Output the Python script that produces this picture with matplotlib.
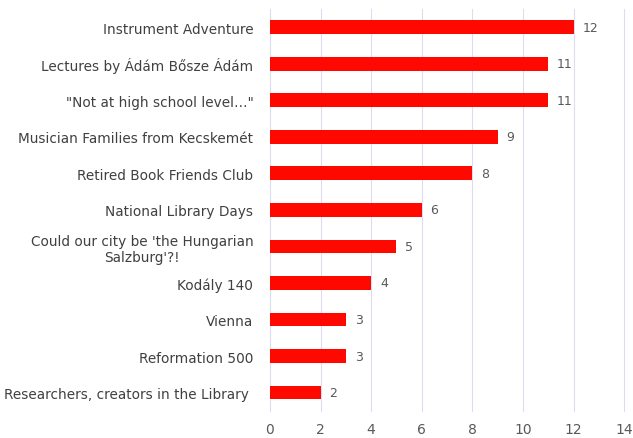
import matplotlib.pyplot as plt

plt.rcParams["font.family"] = "DejaVu Sans"

categories = [
    "Instrument Adventure",
    "Lectures by Ádám Bősze Ádám",
    "\"Not at high school level…\"",
    "Musician Families from Kecskemét",
    "Retired Book Friends Club",
    "National Library Days",
    "Could our city be 'the Hungarian\nSalzburg'?!",
    "Kodály 140",
    "Vienna",
    "Reformation 500",
    "Researchers, creators in the Library ",
]
values = [12, 11, 11, 9, 8, 6, 5, 4, 3, 3, 2]
xticks = [0, 2, 4, 6, 8, 10, 12, 14]

text_color = "#595959"
fig = plt.figure(figsize=(6.33, 4.39), dpi=100)
ax = fig.add_axes([0.4265, 0.062, 0.5595, 0.915])

pos = list(range(len(categories)))[::-1]
ax.barh(pos, values, height=0.38, color="#FF0800", zorder=2)
for p, v in zip(pos, values):
    ax.text(v + 0.35, p, str(v), va="center", ha="left", fontsize=9, color=text_color)

ax.set_xlim(0, 14)
ax.set_ylim(-0.5, len(categories) - 0.5)
ax.set_xticks(xticks)
ax.set_xticklabels([str(x) for x in xticks], fontsize=10, color=text_color)
ax.set_yticks(pos)
ax.set_yticklabels(categories, fontsize=9.8, color="#404040", multialignment="center")
ax.tick_params(axis="both", length=0)
ax.tick_params(axis="y", pad=12)
ax.tick_params(axis="x", pad=8)
for x in xticks:
    ax.axvline(x, color="#DCDCF5", lw=0.8, zorder=0, clip_on=False)
for s in ax.spines.values():
    s.set_visible(False)

fig.savefig("out.png")
